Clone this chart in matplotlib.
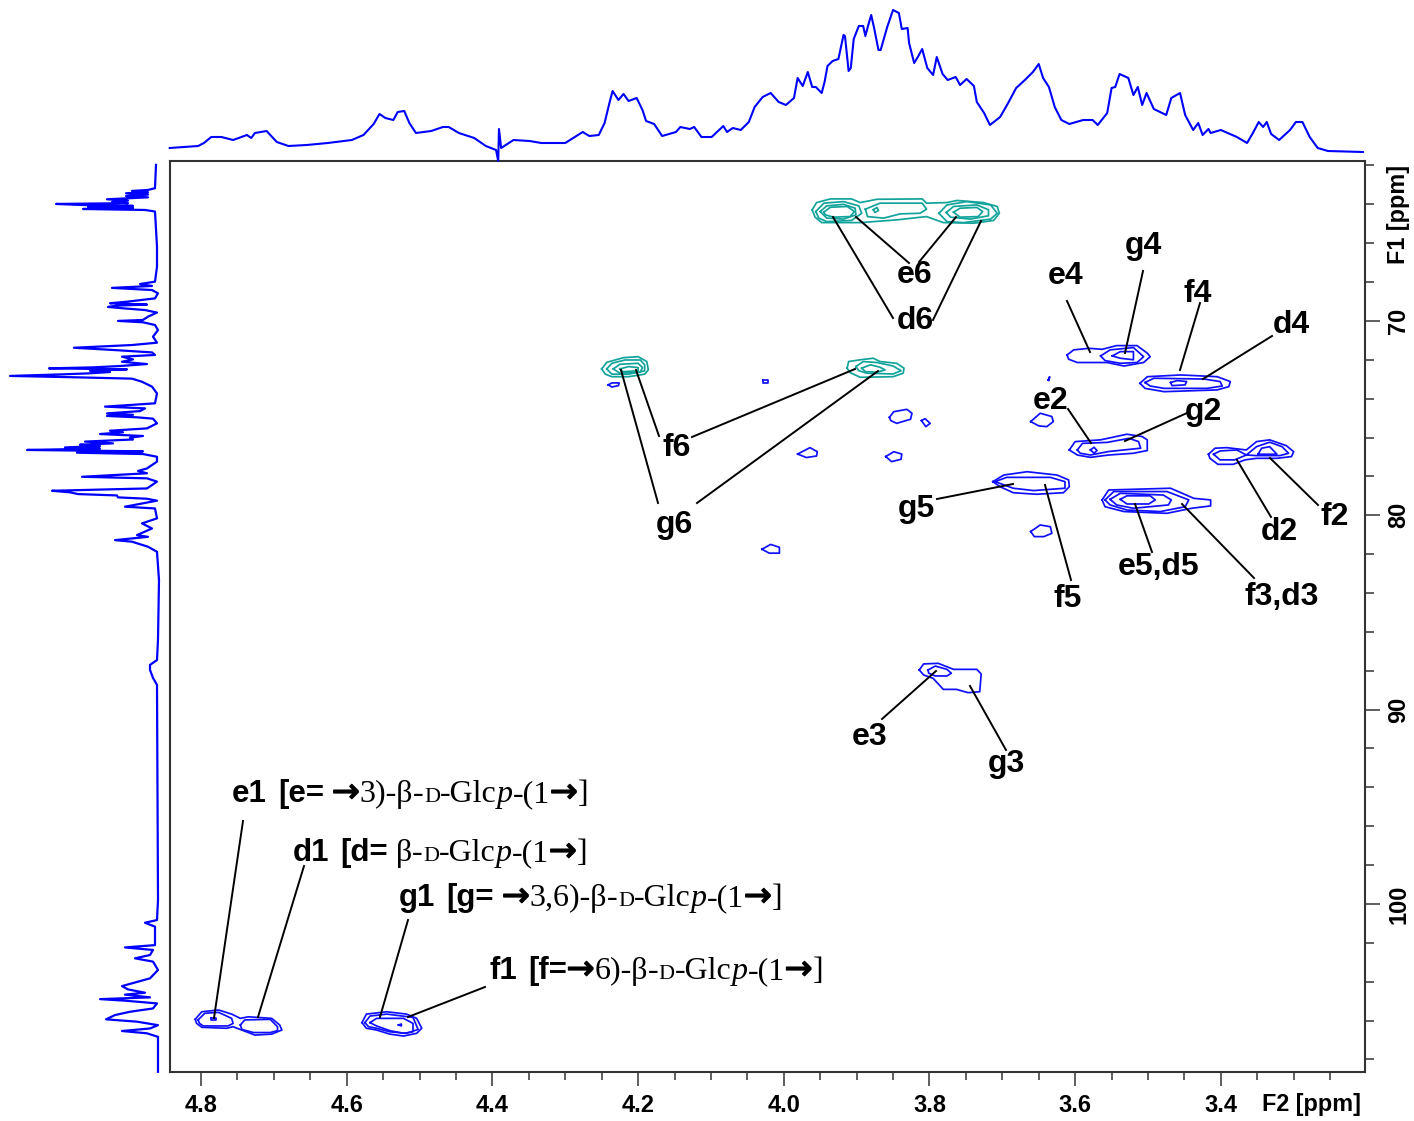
import matplotlib
matplotlib.use("Agg")
import matplotlib.pyplot as plt
import matplotlib.patheffects as pe
from matplotlib.lines import Line2D
from matplotlib.ticker import MultipleLocator

W, H = 1414, 1121

# F2 projection (top)
top_ppm = [4.843, 4.823, 4.804, 4.796, 4.786, 4.772, 4.756, 4.737, 4.731, 4.726, 4.710, 4.696, 4.680, 4.655, 4.626,
           4.593, 4.577, 4.563, 4.555, 4.547, 4.536, 4.530, 4.521, 4.514, 4.505, 4.484, 4.468, 4.460, 4.446, 4.425,
           4.409, 4.395, 4.392, 4.391, 4.388, 4.371, 4.349, 4.333, 4.300, 4.276, 4.267, 4.254, 4.246, 4.239, 4.235,
           4.227, 4.220, 4.213, 4.202, 4.194, 4.189, 4.178, 4.167, 4.148, 4.142, 4.129, 4.123, 4.113, 4.099, 4.083,
           4.078, 4.070, 4.059, 4.048, 4.040, 4.029, 4.018, 4.007, 3.997, 3.986, 3.981, 3.974, 3.967, 3.961, 3.956,
           3.948, 3.944, 3.940, 3.933, 3.925, 3.918, 3.916, 3.911, 3.908, 3.904, 3.897, 3.891, 3.888, 3.884, 3.880,
           3.876, 3.870, 3.867, 3.858, 3.850, 3.842, 3.838, 3.830, 3.828, 3.821, 3.816, 3.810, 3.803, 3.795, 3.790,
           3.782, 3.775, 3.764, 3.758, 3.749, 3.739, 3.735, 3.725, 3.717, 3.703, 3.692, 3.681, 3.669, 3.658, 3.650,
           3.644, 3.636, 3.628, 3.619, 3.608, 3.589, 3.576, 3.569, 3.556, 3.550, 3.545, 3.539, 3.527, 3.520, 3.514,
           3.508, 3.502, 3.492, 3.475, 3.468, 3.456, 3.449, 3.438, 3.431, 3.425, 3.417, 3.414, 3.400, 3.378, 3.364,
           3.356, 3.348, 3.342, 3.337, 3.331, 3.320, 3.305, 3.297, 3.288, 3.278, 3.267, 3.253, 3.205]
top_int = [13, 14, 15, 18, 24, 24, 21, 26, 23, 28, 30, 19, 15, 16, 18,
           21, 26, 37, 47, 43, 41, 49, 50, 38, 28, 30, 34, 34, 28, 23,
           15, 11, 0, 32, 13, 21, 20, 18, 18, 29, 25, 26, 38, 59, 70,
           61, 67, 60, 63, 51, 40, 37, 25, 29, 34, 32, 34, 24, 24, 35,
           29, 33, 31, 39, 54, 64, 68, 59, 56, 63, 83, 75, 89, 74, 74,
           68, 79, 95, 100, 102, 126, 125, 90, 93, 122, 135, 135, 125, 136, 146,
           133, 111, 111, 134, 151, 148, 132, 133, 118, 98, 104, 112, 93, 86, 104,
           87, 81, 84, 76, 82, 75, 59, 48, 36, 44, 58, 73, 81, 89, 97,
           83, 74, 54, 41, 37, 41, 41, 36, 48, 73, 74, 87, 83, 66, 74,
           56, 68, 52, 46, 63, 68, 46, 31, 38, 26, 32, 28, 31, 24, 18,
           28, 39, 34, 39, 27, 21, 31, 39, 39, 24, 13, 10, 9]

# F1 projection (left)
left_ppm = [61.97, 63.17, 63.26, 63.31, 63.38, 63.43, 63.50, 63.57, 63.64, 63.74, 63.81, 63.88, 63.94, 63.98, 64.03,
            64.08, 64.13, 64.18, 64.24, 64.29, 64.37, 66.18, 67.21, 67.98, 68.10, 68.20, 68.30, 68.41, 68.58, 68.84,
            69.01, 69.09, 69.16, 69.21, 69.28, 69.35, 69.44, 69.57, 69.78, 69.95, 70.00, 70.07, 70.21, 70.47, 70.81,
            71.12, 71.24, 71.38, 71.50, 71.62, 71.75, 71.84, 71.98, 72.10, 72.22, 72.32, 72.39, 72.44, 72.49, 72.56,
            72.63, 72.70, 72.75, 72.83, 72.90, 72.97, 73.13, 73.38, 73.73, 74.24, 74.41, 74.50, 74.64, 74.76, 74.83,
            74.89, 74.96, 75.03, 75.27, 75.53, 75.65, 75.73, 75.82, 75.92, 76.01, 76.10, 76.21, 76.30, 76.37, 76.44,
            76.51, 76.57, 76.64, 76.71, 76.78, 76.85, 76.99, 77.24, 77.59, 77.72, 77.84, 78.02, 78.10, 78.27, 78.62,
            78.74, 78.82, 78.91, 78.98, 79.08, 79.15, 79.25, 79.56, 79.65, 80.16, 80.42, 80.68, 81.02, 81.11, 81.28,
            81.36, 81.62, 81.88, 83.34, 86.40, 87.45, 87.70, 87.96, 88.37, 88.73, 99.80, 100.83, 100.97, 101.17, 102.12,
            102.24, 102.37, 102.63, 102.80, 102.97, 103.40, 103.83, 104.00, 104.23, 104.40, 104.57, 104.67, 104.81, 104.90, 104.98,
            105.12, 105.38, 105.55, 105.72, 105.94, 106.06, 106.24, 106.41, 106.54, 106.66, 106.84, 108.64]
left_int = [14, 15, 22, 38, 22, 44, 22, 44, 22, 63, 42, 58, 42, 114, 90,
            37, 82, 37, 87, 25, 15, 13, 13, 15, 30, 18, 58, 18, 12, 15,
            43, 60, 23, 53, 62, 47, 25, 13, 22, 27, 52, 27, 15, 12, 17,
            13, 38, 96, 55, 18, 15, 48, 37, 48, 23, 50, 77, 121, 43, 80,
            60, 82, 108, 160, 95, 38, 28, 18, 13, 15, 65, 25, 30, 63, 37,
            63, 33, 17, 13, 23, 60, 47, 70, 27, 40, 37, 85, 57, 90, 70,
            105, 70, 143, 27, 93, 27, 13, 13, 23, 32, 23, 88, 23, 13, 23,
            118, 100, 92, 53, 52, 23, 13, 45, 15, 13, 28, 18, 33, 22, 55,
            38, 22, 13, 11, 12, 13, 20, 20, 17, 13, 12, 13, 25, 15, 15,
            45, 17, 20, 35, 17, 12, 20, 32, 48, 42, 25, 45, 20, 70, 45,
            13, 17, 40, 55, 64, 33, 12, 20, 48, 23, 12, 12]

# C6 cross peaks, (F2, F1) ppm
teal_contours = [
    [(3.961, 64.28), (3.955, 63.91), (3.936, 63.72), (3.907, 63.72), (3.895, 63.91), (3.872, 63.74), (3.810, 63.72),
     (3.804, 63.94), (3.776, 63.91), (3.762, 63.80), (3.726, 63.91), (3.707, 64.11), (3.704, 64.46), (3.712, 64.83),
     (3.739, 64.97), (3.781, 64.94), (3.804, 64.63), (3.845, 64.80), (3.895, 64.94), (3.948, 64.94), (3.957, 64.66)],
    [(3.956, 64.37), (3.945, 63.94), (3.918, 63.86), (3.897, 64.08), (3.893, 64.46), (3.907, 64.83), (3.941, 64.89), (3.952, 64.71)],
    [(3.950, 64.37), (3.941, 64.08), (3.918, 64.00), (3.902, 64.20), (3.901, 64.54), (3.918, 64.76), (3.941, 64.71)],
    [(3.945, 64.40), (3.936, 64.15), (3.913, 64.11), (3.903, 64.37), (3.909, 64.63), (3.932, 64.66), (3.943, 64.54)],
    [(3.787, 64.46), (3.776, 64.03), (3.749, 63.86), (3.716, 64.03), (3.707, 64.46), (3.716, 64.76), (3.753, 64.94), (3.776, 64.89)],
    [(3.777, 64.42), (3.767, 64.11), (3.735, 64.03), (3.719, 64.28), (3.719, 64.59), (3.744, 64.76), (3.771, 64.66)],
    [(3.767, 64.40), (3.758, 64.20), (3.735, 64.16), (3.727, 64.37), (3.733, 64.63), (3.758, 64.66)],
    [(3.888, 64.25), (3.868, 63.94), (3.810, 63.94), (3.804, 64.25), (3.813, 64.46), (3.840, 64.49), (3.863, 64.71), (3.885, 64.63)],
    [(3.877, 64.28), (3.872, 64.16), (3.870, 64.32), (3.875, 64.42)],
    [(3.913, 72.43), (3.911, 72.09), (3.895, 72.00), (3.877, 71.92), (3.868, 72.09), (3.845, 72.18), (3.835, 72.43),
     (3.836, 72.69), (3.850, 72.87), (3.895, 72.90), (3.909, 72.66)],
    [(3.901, 72.35), (3.891, 72.09), (3.872, 72.14), (3.850, 72.32), (3.839, 72.56), (3.850, 72.73), (3.886, 72.69), (3.897, 72.56)],
    [(3.893, 72.43), (3.881, 72.26), (3.868, 72.38), (3.861, 72.52), (3.872, 72.64), (3.888, 72.61)],
    [(4.250, 72.47), (4.243, 72.13), (4.220, 71.89), (4.200, 71.84), (4.188, 72.09), (4.186, 72.52), (4.191, 72.74),
     (4.213, 72.87), (4.236, 72.87), (4.245, 72.74)],
    [(4.243, 72.47), (4.236, 72.18), (4.218, 72.01), (4.197, 72.01), (4.191, 72.26), (4.191, 72.57), (4.213, 72.74), (4.236, 72.74)],
    [(4.234, 72.47), (4.225, 72.23), (4.200, 72.18), (4.194, 72.40), (4.197, 72.64), (4.225, 72.69)],
    [(4.225, 72.47), (4.213, 72.35), (4.200, 72.40), (4.200, 72.57), (4.221, 72.61)],
]

# remaining cross peaks, (F2, F1) ppm
blue_contours = [
    # e4, g4
    [(3.611, 71.75), (3.602, 71.49), (3.581, 71.41), (3.563, 71.46), (3.543, 71.27), (3.515, 71.27), (3.501, 71.66),
     (3.497, 71.84), (3.506, 72.14), (3.533, 72.32), (3.556, 72.14), (3.597, 72.14), (3.609, 71.97)],
    [(3.565, 71.80), (3.552, 71.49), (3.520, 71.37), (3.506, 71.84), (3.515, 72.14), (3.538, 72.18), (3.559, 72.04)],
    [(3.549, 71.80), (3.538, 71.58), (3.520, 71.58), (3.520, 72.00), (3.538, 71.92)],
    # f4, d4
    [(3.511, 73.21), (3.501, 72.87), (3.455, 72.78), (3.405, 72.87), (3.387, 73.12), (3.389, 73.38), (3.405, 73.55), (3.478, 73.64), (3.504, 73.47)],
    [(3.504, 73.17), (3.492, 72.95), (3.423, 72.99), (3.401, 73.12), (3.398, 73.35), (3.419, 73.47), (3.478, 73.47), (3.497, 73.35)],
    [(3.469, 73.17), (3.460, 73.07), (3.447, 73.12), (3.449, 73.29), (3.467, 73.33)],
    # e2, g2
    [(3.608, 76.64), (3.600, 76.21), (3.565, 76.12), (3.529, 75.83), (3.508, 75.95), (3.501, 76.12), (3.501, 76.67),
     (3.520, 76.81), (3.554, 76.90), (3.579, 77.02), (3.597, 76.90)],
    [(3.597, 76.64), (3.590, 76.30), (3.556, 76.25), (3.526, 76.04), (3.513, 76.21), (3.510, 76.55), (3.554, 76.72), (3.579, 76.90), (3.593, 76.81)],
    [(3.579, 76.64), (3.574, 76.50), (3.570, 76.67), (3.574, 76.81)],
    # weak spots
    [(3.855, 74.96), (3.849, 74.67), (3.831, 74.55), (3.824, 74.75), (3.826, 75.06), (3.845, 75.27), (3.853, 75.13)],
    [(3.811, 75.13), (3.806, 75.03), (3.799, 75.27), (3.805, 75.44)],
    [(3.981, 76.85), (3.964, 76.52), (3.954, 76.73), (3.955, 76.95), (3.969, 77.03)],
    [(3.860, 76.98), (3.849, 76.73), (3.838, 76.85), (3.839, 77.12), (3.852, 77.24)],
    [(3.661, 75.18), (3.648, 74.75), (3.632, 74.92), (3.630, 75.18), (3.639, 75.44), (3.650, 75.40)],
    [(3.637, 73.04), (3.635, 72.87), (3.636, 73.07)],
    [(3.661, 80.84), (3.648, 80.50), (3.634, 80.59), (3.632, 80.93), (3.643, 81.10), (3.656, 81.10)],
    [(4.241, 73.29), (4.236, 73.19), (4.226, 73.19), (4.227, 73.33), (4.236, 73.40)],
    [(4.029, 73.04), (4.022, 73.04), (4.022, 73.21), (4.029, 73.21)],
    [(4.030, 81.75), (4.018, 81.50), (4.006, 81.65), (4.006, 81.95), (4.020, 81.95)],
    # g5, f5
    [(3.713, 78.27), (3.698, 77.93), (3.666, 77.76), (3.625, 77.93), (3.609, 78.18), (3.608, 78.53), (3.616, 78.84), (3.653, 78.92), (3.685, 78.84), (3.703, 78.53)],
    [(3.710, 78.27), (3.694, 78.05), (3.634, 78.05), (3.614, 78.27), (3.614, 78.61), (3.657, 78.73), (3.685, 78.61)],
    # e5, d5, f3, d3
    [(3.563, 79.21), (3.554, 78.70), (3.469, 78.61), (3.437, 79.13), (3.414, 79.21), (3.414, 79.52), (3.440, 79.64), (3.474, 79.90), (3.533, 79.81), (3.559, 79.56)],
    [(3.559, 79.21), (3.547, 78.78), (3.474, 78.78), (3.444, 79.21), (3.449, 79.56), (3.483, 79.81), (3.529, 79.73), (3.552, 79.47)],
    [(3.552, 79.18), (3.538, 78.87), (3.479, 78.96), (3.468, 79.21), (3.472, 79.47), (3.520, 79.64), (3.543, 79.47)],
    [(3.538, 79.18), (3.529, 79.00), (3.497, 79.00), (3.490, 79.21), (3.499, 79.42), (3.529, 79.42)],
    # d2, f2
    [(3.417, 76.86), (3.408, 76.55), (3.392, 76.52), (3.365, 76.64), (3.351, 76.21), (3.333, 76.12), (3.310, 76.42), (3.300, 76.73),
     (3.303, 76.98), (3.323, 77.07), (3.351, 77.07), (3.367, 77.15), (3.383, 77.38), (3.404, 77.38), (3.415, 77.07)],
    [(3.410, 76.86), (3.401, 76.69), (3.378, 76.64), (3.365, 76.90), (3.381, 77.15), (3.401, 77.15)],
    [(3.365, 76.90), (3.351, 76.47), (3.333, 76.24), (3.316, 76.47), (3.307, 76.81), (3.319, 76.93), (3.351, 76.93)],
    [(3.349, 76.86), (3.344, 76.55), (3.333, 76.47), (3.323, 76.86)],
    # e3, g3
    [(3.814, 87.96), (3.808, 87.65), (3.788, 87.62), (3.767, 87.93), (3.735, 87.93), (3.729, 88.17), (3.731, 89.08), (3.747, 89.13),
     (3.763, 88.96), (3.781, 88.96), (3.795, 88.39), (3.808, 88.22)],
    [(3.802, 87.96), (3.792, 87.76), (3.776, 87.93), (3.770, 88.13), (3.776, 88.27), (3.792, 88.27), (3.801, 88.13)],
    # e1, d1
    [(4.808, 105.94), (4.799, 105.55), (4.776, 105.46), (4.758, 105.67), (4.746, 105.89), (4.735, 105.81), (4.703, 105.89), (4.692, 106.23),
     (4.689, 106.49), (4.703, 106.70), (4.726, 106.75), (4.742, 106.52), (4.756, 106.32), (4.765, 106.40), (4.799, 106.35), (4.806, 106.15)],
    [(4.804, 105.97), (4.795, 105.63), (4.776, 105.58), (4.758, 105.89), (4.756, 106.15), (4.763, 106.28), (4.797, 106.28), (4.802, 106.15)],
    [(4.787, 105.88), (4.780, 105.88), (4.780, 105.98), (4.787, 105.98)],
    [(4.746, 106.23), (4.740, 105.97), (4.705, 105.94), (4.695, 106.32), (4.695, 106.52), (4.705, 106.62), (4.728, 106.62), (4.744, 106.46)],
    # g1, f1
    [(4.579, 106.11), (4.573, 105.67), (4.545, 105.55), (4.518, 105.67), (4.504, 105.89), (4.497, 106.40), (4.504, 106.66), (4.522, 106.80),
     (4.541, 106.70), (4.559, 106.49), (4.573, 106.40)],
    [(4.575, 106.11), (4.568, 105.77), (4.545, 105.67), (4.509, 105.84), (4.502, 106.46), (4.518, 106.66), (4.541, 106.58), (4.559, 106.40), (4.570, 106.32)],
    [(4.568, 106.11), (4.559, 105.89), (4.522, 105.89), (4.509, 106.15), (4.509, 106.58), (4.522, 106.66), (4.541, 106.52), (4.559, 106.28)],
    [(4.529, 106.23), (4.525, 106.18), (4.525, 106.28)],
]

# assignment labels
peak_labels = ["e6", "d6", "e4", "g4", "f4", "d4", "e2", "g2", "f6", "g6", "g5", "f5", "e5,d5", "f3,d3", "d2", "f2", "e3", "g3"]
label_x = [915, 915, 1066, 1143, 1198, 1291, 1051, 1203, 677, 674, 916, 1068, 1159, 1282, 1279, 1335, 870, 1006]
label_y = [275, 321, 276, 246, 294, 325, 401, 412, 448, 525, 509, 599, 567, 597, 532, 517, 737, 764]

# leader lines, picture pixels
leaders = [(833, 217, 893, 318), (856, 217, 909, 263), (956, 217, 919, 262), (981, 221, 933, 320),
           (1067, 301, 1090, 352), (1143, 271, 1125, 353), (1200, 303, 1180, 370), (1272, 336, 1203, 379),
           (1068, 409, 1091, 443), (1187, 413, 1125, 441), (937, 499, 1013, 484), (1045, 485, 1071, 580),
           (1135, 504, 1152, 552), (1182, 504, 1254, 578), (1237, 460, 1271, 517), (1270, 458, 1318, 505),
           (636, 370, 659, 436), (855, 369, 692, 437), (621, 370, 658, 503), (878, 371, 697, 503),
           (936, 671, 882, 719), (970, 686, 1006, 750), (214, 1018, 243, 821), (258, 1017, 304, 866),
           (380, 1017, 408, 920), (408, 1017, 485, 987)]

ARROW = "\u2192"
BETA = "\u03b2"
styles = {
    "b": dict(family="Liberation Sans", weight="bold", size=22.5),
    "s": dict(family="Liberation Serif", size=23),
    "c": dict(family="Liberation Serif", size=16),
    "i": dict(family="Liberation Serif", style="italic", size=23),
    "a": dict(family="DejaVu Sans", size=24, path_effects=[pe.withStroke(linewidth=1.0, foreground="black")]),
}
glc_tail = [("-", "s", 0), ("D", "c", 0), ("-Glc", "s", 0), ("p", "i", 0), ("-(1", "s", 0), (ARROW, "a", 0), ("]", "s", 0)]
linkage_lines = [
    (232, 802, [("e1", "b", 11), ("[e=", "b", 8), (ARROW, "a", 0), ("3)-" + BETA, "s", 0)] + glc_tail),
    (293, 861, [("d1", "b", 11), ("[d=", "b", 8), (BETA, "s", 0)] + glc_tail),
    (399, 906, [("g1", "b", 11), ("[g=", "b", 8), (ARROW, "a", 0), ("3,6)-" + BETA, "s", 0)] + glc_tail),
    (489, 979, [("f1", "b", 11), ("[f=", "b", 0), (ARROW, "a", 0), ("6)-" + BETA, "s", 0)] + glc_tail),
]

plt.rcParams["font.family"] = "Liberation Sans"
fig = plt.figure(figsize=(W / 100, H / 100), dpi=100)

def axes_px(x0, y0, x1, y1):
    return fig.add_axes([x0 / W, 1 - y1 / H, (x1 - x0) / W, (y1 - y0) / H])

ax = axes_px(170, 161, 1365, 1072)
ax_top = axes_px(170, 0, 1365, 161)
ax_left = axes_px(0, 161, 170, 1072)

xlim = (4.8426, 3.2021)
ylim = (108.65, 61.77)

for poly in teal_contours:
    xs, ys = zip(*(poly + poly[:1]))
    ax.plot(xs, ys, color="#12A39B", lw=1.25)
for poly in blue_contours:
    xs, ys = zip(*(poly + poly[:1]))
    ax.plot(xs, ys, color="#1010FF", lw=1.25)

ax.set_xlim(xlim)
ax.set_ylim(ylim)
ax.xaxis.set_major_locator(MultipleLocator(0.2))
ax.xaxis.set_minor_locator(MultipleLocator(0.05))
ax.xaxis.set_major_formatter(lambda v, pos: f"{v:.1f}")
ax.yaxis.set_major_locator(MultipleLocator(10))
ax.yaxis.set_minor_locator(MultipleLocator(2))
ax.yaxis.tick_right()
ax.tick_params(axis="x", which="major", length=10, width=1.1, pad=6, labelsize=17, color="#333333")
ax.tick_params(axis="x", which="minor", length=6, width=1.1, color="#333333")
ax.tick_params(axis="y", which="major", length=11, width=1.1, pad=5, labelsize=17, color="#333333", labelrotation=90)
ax.tick_params(axis="y", which="minor", length=6.5, width=1.1, color="#333333")
for lab in ax.get_xticklabels() + ax.get_yticklabels():
    lab.set_fontweight("bold")
for lab in ax.get_yticklabels():
    lab.set_va("center")
for s in ax.spines.values():
    s.set_linewidth(1.5)
    s.set_color("#333333")

ax_top.plot(top_ppm, top_int, color="#0000FF", lw=1.5, clip_on=False)
ax_top.set_xlim(xlim)
ax_top.set_ylim(0, 161)
ax_top.axis("off")

ax_left.plot(left_int, left_ppm, color="#0000FF", lw=1.6, clip_on=False)
ax_left.set_xlim(170, 0)
ax_left.set_ylim(ylim)
ax_left.axis("off")

for x0, y0, x1, y1 in leaders:
    fig.add_artist(Line2D([x0 / W, x1 / W], [1 - y0 / H, 1 - y1 / H], color="black", lw=1.4))

for name, x, y in zip(peak_labels, label_x, label_y):
    fig.text(x / W, 1 - y / H, name, ha="center", va="center", fontsize=23, fontweight="bold")

fig.text(1311 / W, 1 - 1105 / H, "F2 [ppm]", ha="center", va="center", fontsize=16.8, fontweight="bold")
fig.text(1399 / W, 1 - 214 / H, "F1 [ppm]", ha="center", va="center", rotation=90, fontsize=16.8, fontweight="bold")

renderer = fig.canvas.get_renderer()
for x, y, runs in linkage_lines:
    pos = x
    for txt, st, gap in runs:
        t = fig.text(pos / W, 1 - y / H, txt, ha="left", va="baseline", **styles[st])
        pos = t.get_window_extent(renderer).x1 + gap

fig.savefig("out.png", dpi=100)
